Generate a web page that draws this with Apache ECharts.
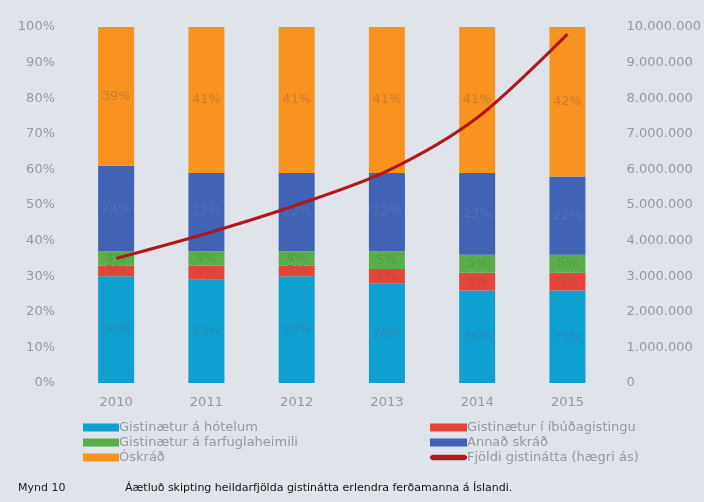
<!DOCTYPE html>
<html>
<head>
<meta charset="utf-8">
<script src="https://cdn.jsdelivr.net/npm/echarts@6/dist/echarts.min.js"></script>
<style>
  html, body { margin: 0; padding: 0; background: #dfe4eb; }
  #chart { width: 704px; height: 502px; }
</style>
</head>
<body>
<div id="chart"></div>
<script>
// Years on the category axis
const years = ['2010', '2011', '2012', '2013', '2014', '2015'];

// Share of overnight stays by type (%)
const hotel   = [30, 29, 30, 28, 26, 26];
const ibud    = [3, 4, 3, 4, 5, 5];
const farfugl = [4, 4, 4, 5, 5, 5];
const annad   = [24, 22, 22, 22, 23, 22];
const oskrad  = [39, 41, 41, 41, 41, 42];

// Total number of overnight stays (right axis)
const fjoldi = [3500000, 4200000, 5000000, 5950000, 7450000, 9800000];

// Series names
const names = {
  hotel: 'Gistinætur á hótelum',
  ibud: 'Gistinætur í íbúðagistingu',
  farfugl: 'Gistinætur á farfuglaheimili',
  annad: 'Annað skráð',
  oskrad: 'Óskráð',
  fjoldi: 'Fjöldi gistinátta (hægri ás)'
};

const FONT = 'DejaVu Sans';
const fmtThousands = v => String(v).replace(/\B(?=(\d{3})+(?!\d))/g, '.');

function barSeries(name, data, color, labelColor) {
  return {
    name, type: 'bar', stack: 'share', data, barWidth: 36,
    itemStyle: { color },
    label: {
      show: true, position: 'inside', formatter: '{c}%',
      color: labelColor, fontSize: 13, fontFamily: FONT
    },
    emphasis: { disabled: true }
  };
}

const chart = echarts.init(document.getElementById('chart'));
const textStyle = { fontFamily: FONT, fontSize: 13, color: '#95989d' };

chart.setOption({
  backgroundColor: '#dfe4eb',
  animation: false,
  grid: { left: 71, right: 88, top: 27, bottom: 119, containLabel: false },
  xAxis: {
    type: 'category', data: years,
    axisLine: { show: false }, axisTick: { show: false },
    axisLabel: { ...textStyle, margin: 13 }
  },
  yAxis: [
    {
      type: 'value', min: 0, max: 100, interval: 10,
      splitLine: { show: false }, axisLine: { show: false }, axisTick: { show: false },
      axisLabel: { ...textStyle, margin: 16, formatter: '{value}%' }
    },
    {
      type: 'value', min: 0, max: 10000000, interval: 1000000,
      splitLine: { show: false }, axisLine: { show: false }, axisTick: { show: false },
      axisLabel: { ...textStyle, margin: 14, formatter: v => fmtThousands(v) }
    }
  ],
  legend: [
    {
      left: 78, top: 416, orient: 'vertical', itemGap: 2,
      itemWidth: 36, itemHeight: 8, icon: 'rect',
      textStyle: { ...textStyle, padding: [0, 0, 0, -5] },
      data: [names.hotel, names.farfugl, names.oskrad]
    },
    {
      left: 425, top: 416, orient: 'vertical', itemGap: 2,
      itemWidth: 37, itemHeight: 8,
      textStyle: { ...textStyle, padding: [0, 0, 0, -5] },
      data: [
        { name: names.ibud, icon: 'rect' },
        { name: names.annad, icon: 'rect' },
        { name: names.fjoldi, icon: 'path://M0,3 L2,1.5 L32,1.5 L34,3 L34,5 L32,6.5 L2,6.5 L0,5 Z' }
      ]
    }
  ],
  graphic: [
    {
      type: 'text', left: 18, top: 483,
      style: { text: 'Mynd 10', fontFamily: FONT, fontSize: 11, fill: '#222' }
    },
    {
      type: 'text', left: 125, top: 483,
      style: {
        text: 'Áætluð skipting heildarfjölda gistinátta erlendra ferðamanna á Íslandi.',
        fontFamily: FONT, fontSize: 11, fill: '#111'
      }
    }
  ],
  series: [
    barSeries(names.hotel, hotel, '#0fa0d2', '#2a8db5'),
    barSeries(names.ibud, ibud, '#e5453b', '#c94a42'),
    barSeries(names.farfugl, farfugl, '#5aae4a', '#509c42'),
    barSeries(names.annad, annad, '#4063b6', '#5070b5'),
    barSeries(names.oskrad, oskrad, '#f7931e', '#c97d35'),
    {
      name: names.fjoldi, type: 'line', yAxisIndex: 1, data: fjoldi,
      smooth: 0.3, symbol: 'none',
      lineStyle: { color: '#b0161b', width: 3 },
      itemStyle: { color: '#b0161b' },
      z: 5
    }
  ]
});
</script>
</body>
</html>
